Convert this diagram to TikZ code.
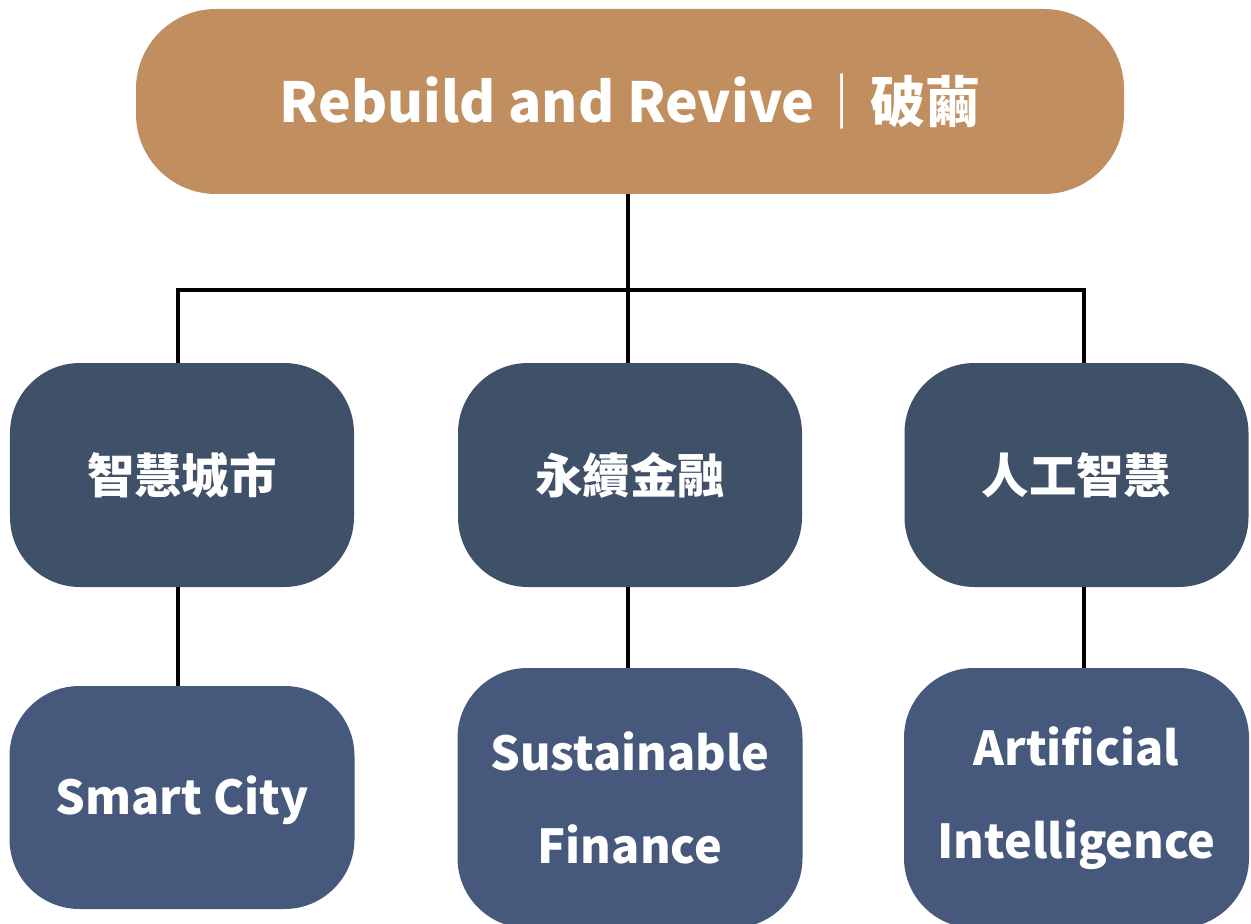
\documentclass[tikz,border=0pt]{standalone}
\usepackage{fontspec}
\setmainfont{Noto Sans CJK TC}
\definecolor{bronze}{HTML}{C18E60}
\definecolor{slate}{HTML}{3F5069}
\definecolor{steel}{HTML}{46587B}
\tikzset{
  topbox/.style={fill=bronze, rounded corners=1.6cm, minimum width=19.76cm, minimum height=3.7cm,
    text=white, font=\fontsize{31.4}{38}\selectfont\bfseries},
  midbox/.style={fill=slate, rounded corners=1.4cm, minimum width=6.88cm, minimum height=4.48cm,
    text=white, font=\fontsize{27}{32}\selectfont\bfseries},
  lowbox/.style={fill=steel, rounded corners=1.4cm, minimum width=6.9cm,
    text=white, align=center, font=\fontsize{26.6}{53}\selectfont\bfseries},
  link/.style={line width=2.3pt, line join=miter}
}
\begin{document}
\begin{tikzpicture}
  \clip (0,0) rectangle (25.02,-18.48);
  \node[topbox] (top) at (12.6,-2.03) {Rebuild and Revive｜破繭};
  \node[midbox] (city) at (3.64,-9.5) {智慧城市};
  \node[midbox] (fin) at (12.6,-9.5) {永續金融};
  \node[midbox] (ai) at (21.53,-9.5) {人工智慧};
  \node[lowbox, minimum height=4.46cm, text height=0.9cm] (smart) at (3.64,-15.95) {Smart City};
  \node[lowbox, minimum height=5.2cm] (sust) at (12.6,-15.96) {Sustainable\\Finance};
  \node[lowbox, minimum height=5.2cm] (arti) at (21.53,-15.96) {Artificial\\Intelligence};
  \coordinate (bus) at (12.56,-5.8);
  \draw[link] ([xshift=-0.04cm]top.south) -- ([xshift=-0.04cm]fin.north);
  \draw[link] ([xshift=-0.08cm]city.north) |- (bus) -| ([xshift=0.15cm]ai.north);
  \draw[link] ([xshift=-0.08cm]city.south) -- ([xshift=-0.08cm]city.south |- smart.north);
  \draw[link] ([xshift=-0.04cm]fin.south) -- ([xshift=-0.04cm]fin.south |- sust.north);
  \draw[link] ([xshift=0.15cm]ai.south) -- ([xshift=0.15cm]ai.south |- arti.north);
\end{tikzpicture}
\end{document}
